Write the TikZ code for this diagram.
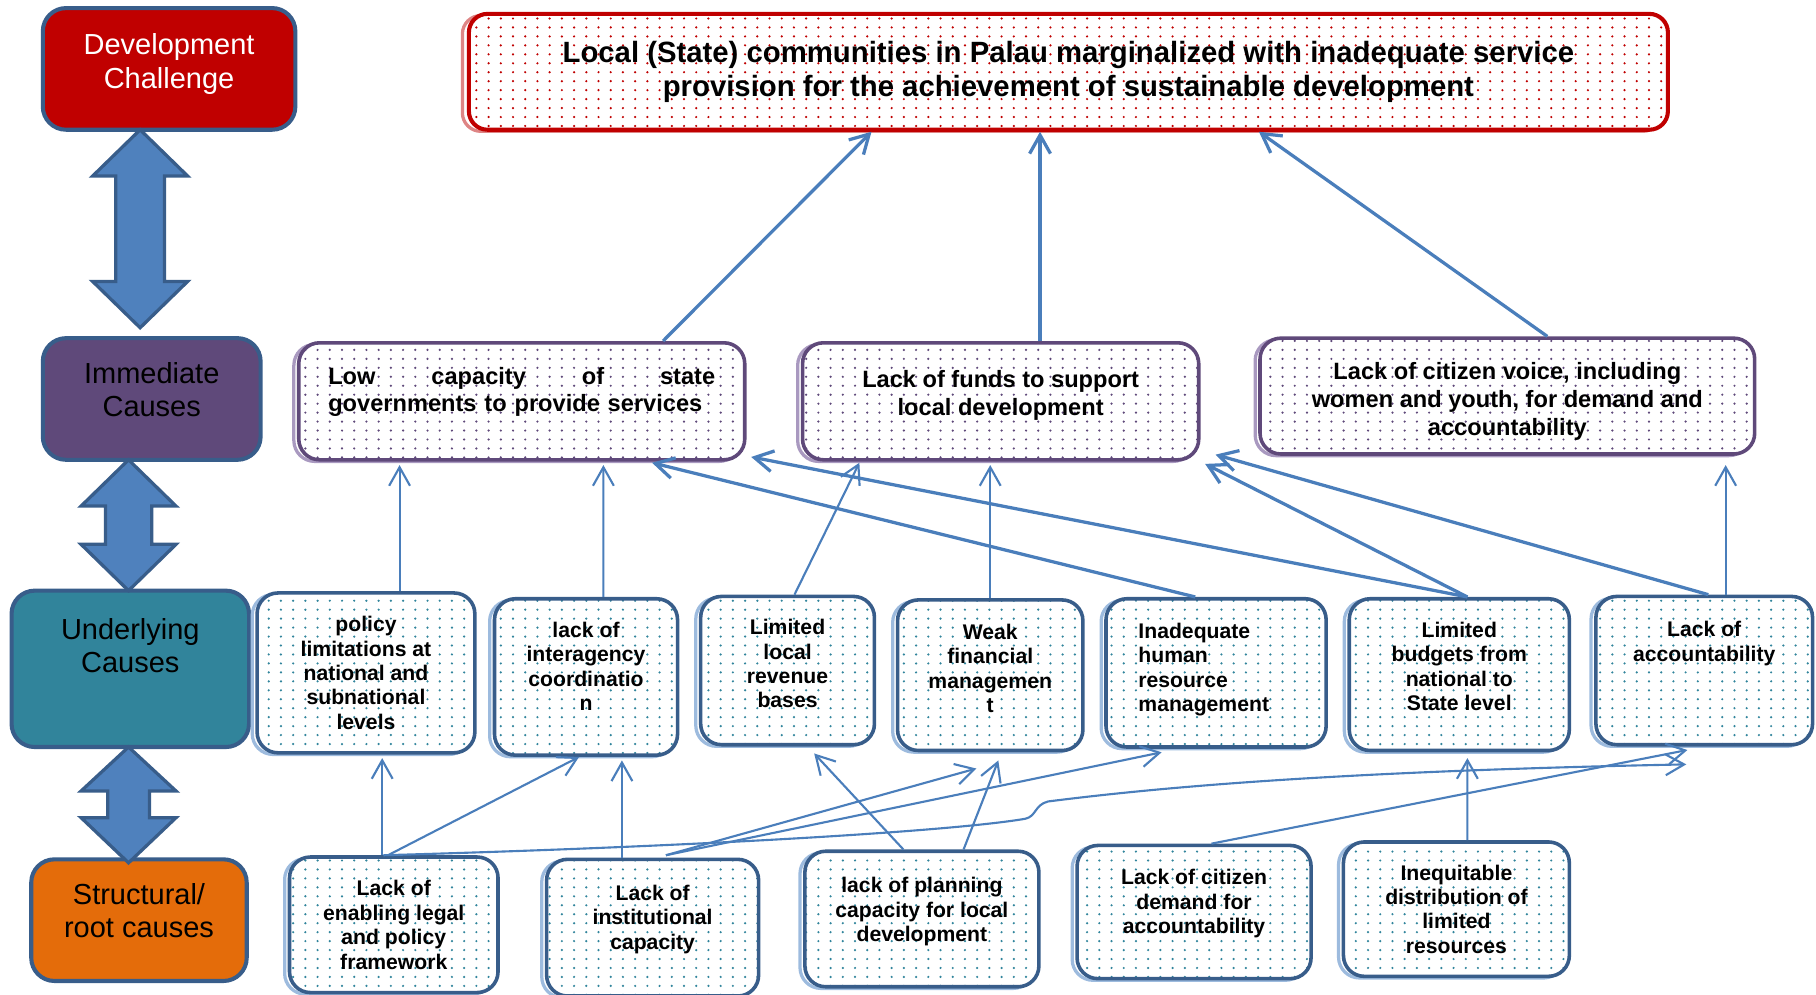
\documentclass[tikz,border=0pt]{standalone}
\usepackage{fontspec}
\setmainfont{Liberation Sans}
\usetikzlibrary{arrows.meta, calc, patterns, shadows}

\definecolor{linkblue}{HTML}{4A7EBB}
\definecolor{boxblue}{HTML}{385D8A}
\definecolor{shadeblue}{HTML}{9DBBDE}
\definecolor{dotteal}{HTML}{31859C}
\definecolor{plum}{HTML}{5F497A}
\definecolor{shadeplum}{HTML}{A999C0}
\definecolor{darkred}{HTML}{C00000}
\definecolor{shadered}{HTML}{DE8585}
\definecolor{tealfill}{HTML}{31849B}
\definecolor{orangefill}{HTML}{E46C0A}
\definecolor{arrowfill}{HTML}{4F81BD}

\pgfdeclarepatternformonly{finedots}{\pgfqpoint{-1pt}{-1pt}}{\pgfqpoint{1pt}{1pt}}{\pgfqpoint{7.5pt}{5.5pt}}{%
  \pgfpathcircle{\pgfqpoint{0pt}{0pt}}{0.75pt}\pgfusepath{fill}}

\tikzstyle{levelbox} = [rectangle, rounded corners=0.5cm, draw=boxblue, line width=2.5pt, align=center, font=\fontsize{17.8}{20.6}\selectfont]
\tikzstyle{topbox} = [rectangle, rounded corners=0.4cm, copy shadow={shadow xshift=-4pt, shadow yshift=-1pt, draw=shadered, line width=2pt, fill=white}, preaction={fill=white}, pattern=finedots, pattern color=darkred, draw=darkred, line width=2.5pt, align=center, font=\fontsize{18}{21.3}\selectfont\bfseries]
\tikzstyle{immbox} = [rectangle, rounded corners=0.45cm, copy shadow={shadow xshift=-3pt, shadow yshift=-1pt, draw=shadeplum, line width=2pt, fill=white}, preaction={fill=white}, pattern=finedots, pattern color=plum, draw=plum, line width=2.2pt, align=center, font=\fontsize{14.5}{17}\selectfont\bfseries]
\tikzstyle{causebox} = [rectangle, rounded corners=0.45cm, copy shadow={shadow xshift=-3pt, shadow yshift=-1pt, draw=shadeblue, line width=2pt, fill=white}, preaction={fill=white}, pattern=finedots, pattern color=dotteal, draw=boxblue, line width=2.2pt, align=center, font=\fontsize{13}{15}\selectfont\bfseries]
\tikzstyle{linkline} = [draw=linkblue, line width=1.3pt, -{Straight Barb[length=4mm, width=4.5mm]}]
\tikzstyle{boldlink} = [linkline, line width=2pt]
\tikzstyle{blockarrow} = [fill=arrowfill, draw=boxblue, line width=2pt, line join=miter]

\begin{document}
\begin{tikzpicture}[x=0.025cm, y=-0.025cm]
    \useasboundingbox (0,0) rectangle (1568,859);

    %level boxes
    \node (devchal) [levelbox, fill=darkred, text=white, minimum width=5.45cm, minimum height=2.625cm] at (146,59.5) {Development\\Challenge\\[-11pt]{}};
    \node (immcause) [levelbox, fill=plum, minimum width=4.7cm, minimum height=2.625cm] at (131,344.5) {Immediate\\Causes\\[-9pt]{}};
    \node (undcause) [levelbox, fill=tealfill, minimum width=5.125cm, minimum height=3.375cm] at (112.5,577.5) {Underlying\\Causes\\[8pt]{}};
    \node (rootcause) [levelbox, fill=orangefill, minimum width=4.65cm, minimum height=2.625cm] at (120,794.5) {Structural/\\root causes\\[-9pt]{}};

    %double arrows
    \draw [blockarrow] (121,112) -- (162,152) -- (142,152) -- (142,243) -- (162,243) -- (121,283) -- (80,243) -- (100,243) -- (100,152) -- (80,152) -- cycle;
    \draw [blockarrow] (111,397) -- (152,437) -- (131,437) -- (131,470) -- (152,470) -- (111,510) -- (70,470) -- (91,470) -- (91,437) -- (70,437) -- cycle;
    \draw [blockarrow] (111,645) -- (152,683) -- (129,683) -- (129,706) -- (152,706) -- (111,745) -- (70,706) -- (93,706) -- (93,683) -- (70,683) -- cycle;

    %challenge
    \node (top) [topbox, minimum width=25.875cm, minimum height=2.5cm] at (922.5,62) {Local (State) communities in Palau marginalized with inadequate service\\provision for the achievement of sustainable development};

    %immediate causes
    \node (imm1) [immbox, minimum width=9.625cm, minimum height=2.525cm, text width=8.35cm, align=left] at (450.5,346.5) {Low\hfill capacity\hfill of\hfill state\\governments to provide services\\[-2.6pt]\mbox{}};
    \node (imm2) [immbox, minimum width=8.55cm, minimum height=2.525cm] at (864,346.5) {Lack of funds to support\\local development\\[-7pt]{}};
    \node (imm3) [immbox, minimum width=10.675cm, minimum height=2.5cm] at (1301.5,342) {{}\\[0pt]Lack of citizen voice, including\\women and youth, for demand and\\accountability};

    %underlying causes
    \node (u1) [causebox, minimum width=4.7cm, minimum height=3.45cm] at (316,581) {policy\\limitations at\\national and\\subnational\\levels};
    \node (u2) [causebox, minimum width=3.95cm, minimum height=3.375cm] at (506,584.5) {lack of\\interagency\\coordinatio\\n\\[-2pt]{}};
    \node (u3) [causebox, minimum width=3.75cm, minimum height=3.2cm] at (680,579) {Limited\\local\\revenue\\bases\\[-6.5pt]{}};
    \node (u4) [causebox, minimum width=4cm, minimum height=3.25cm] at (855,583) {Weak\\financial\\managemen\\t\\[-6.5pt]{}};
    \node (u5) [causebox, minimum width=4.75cm, minimum height=3.2cm, text width=3.35cm, align=left] at (1050,581) {Inadequate\\human\\resource\\management\\[-8pt]\mbox{}};
    \node (u6) [causebox, minimum width=4.75cm, minimum height=3.275cm] at (1260,582.5) {Limited\\budgets from\\national to\\State level\\[-5pt]{}};
    \node (u7) [causebox, minimum width=4.675cm, minimum height=3.2cm] at (1471.5,579) {Lack of\\accountability\\[21pt]{}};

    %root causes
    \node (r1) [causebox, minimum width=4.5cm, minimum height=2.925cm] at (340,798.5) {Lack of\\enabling legal\\and policy\\framework};
    \node (r2) [causebox, minimum width=4.575cm, minimum height=2.95cm] at (563.5,801) {Lack of\\institutional\\capacity\\[-2pt]{}};
    \node (r3) [causebox, minimum width=5.05cm, minimum height=2.925cm] at (796,793.5) {lack of planning\\capacity for local\\development\\[-3.5pt]{}};
    \node (r4) [causebox, minimum width=5.05cm, minimum height=2.875cm] at (1031,787.5) {Lack of citizen\\demand for\\accountability\\[-2pt]{}};
    \node (r5) [causebox, minimum width=4.875cm, minimum height=2.9cm] at (1257.5,785) {Inequitable\\distribution of\\limited\\resources};
    \coordinate (loopend) at (1456,660);

    %arrows to the challenge
    \draw [boldlink] ($(imm1.north)+(122,0)$) -- ($(top.south)+(-170,0)$);
    \draw [boldlink] ($(imm2.north)+(34,0)$) -- ($(top.south)+(-24.5,0)$);
    \draw [boldlink] ($(imm3.north)+(34.5,0)$) -- ($(top.south)+(164.5,0)$);

    %arrows to immediate causes
    \draw [linkline] ($(u1.north)+(29,0)$) -- ($(imm1.south)+(-105.5,3)$);
    \draw [linkline] ($(u2.north)+(15,0)$) -- ($(imm1.south)+(70.5,3)$);
    \draw [linkline] ($(u3.north)+(6,0)$) -- ($(imm2.south)+(-122,1)$);
    \draw [linkline] (u4.north) -- ($(imm2.south)+(-9,3)$);
    \draw [boldlink] ($(u5.north)+(-18,0)$) -- ($(imm1.south)+(112.5,1)$);
    \draw [boldlink] ($(u6.north)+(7,0)$) -- ($(imm1.south east)+(4,-4)$);
    \draw [boldlink] ($(u6.north)+(7,0)$) -- ($(imm2.south east)+(4,2)$);
    \draw [boldlink] ($(u7.north)+(3.5,0)$) -- ($(imm2.south east)+(13,-6)$);
    \draw [linkline] ($(u7.north)+(18.5,0)$) -- ($(imm3.south)+(188.5,8)$);

    %arrows to underlying causes
    \draw [linkline] ($(r1.north)+(-10,0)$) -- ($(u1.south)+(14,3)$);
    \draw [linkline] ($(r1.north)+(-5,0)$) -- ($(u2.south)+(-6,0)$);
    \draw [linkline] ($(r1.north)+(-9,0)$) .. controls (600,731) and (820,718) .. (885,707) .. controls (895,705) and (893,695) .. (905,692) .. controls (1000,680) and (1150,666) .. (loopend);
    \draw [linkline] ($(r2.north)+(-26.5,0)$) -- ($(u2.south)+(31,3)$);
    \draw [linkline] ($(r2.north)+(11.5,-2)$) -- ($(u4.south)+(-12,14)$);
    \draw [linkline] ($(r2.north)+(11.5,-2)$) -- ($(u5.south)+(-47,3)$);
    \draw [linkline] ($(r3.north)+(-16,0)$) -- ($(u3.south)+(23,6)$);
    \draw [linkline] ($(r3.north)+(36,0)$) -- ($(u4.south)+(7,7)$);
    \draw [linkline] ($(r4.north)+(15,0)$) -- ($(u7.south)+(-14.5,3)$);
    \draw [linkline] ($(r5.north)+(9.5,0)$) -- ($(u6.south)+(7,5)$);

\end{tikzpicture}
\end{document}
